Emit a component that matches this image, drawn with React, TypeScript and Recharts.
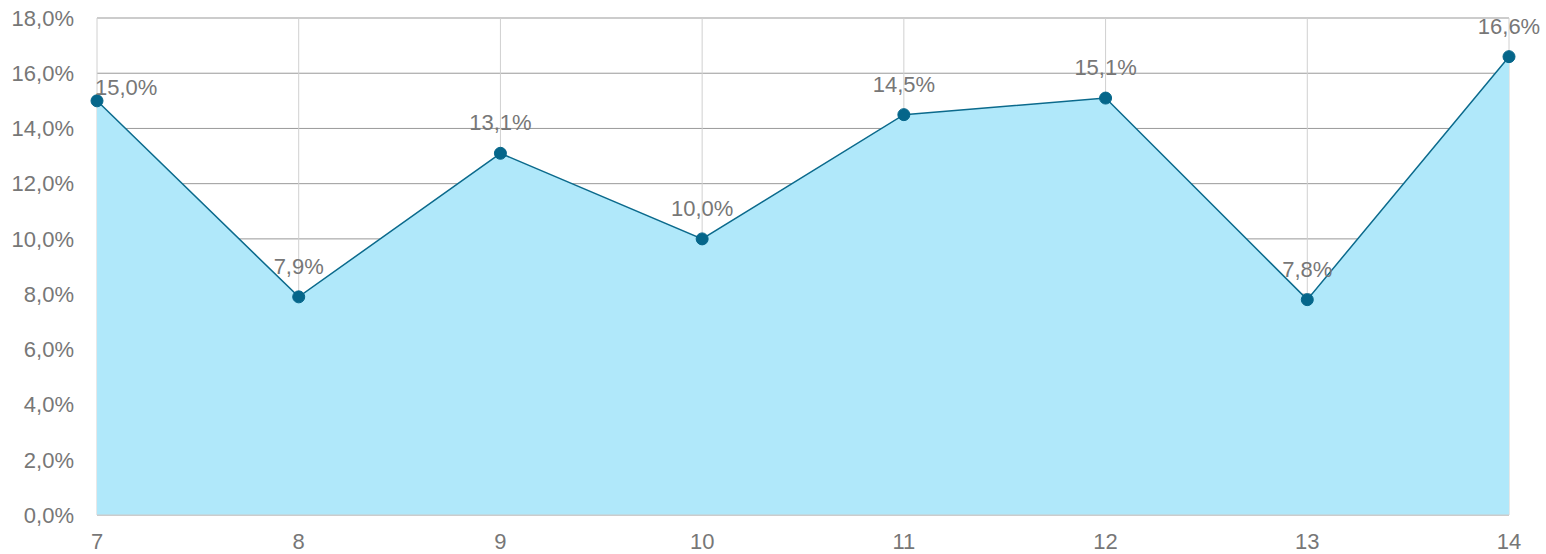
import { Area, AreaChart, CartesianGrid, LabelList, XAxis, YAxis } from "recharts";

const categories = ['7', '8', '9', '10', '11', '12', '13', '14'];
const values = [15.0, 7.9, 13.1, 10.0, 14.5, 15.1, 7.8, 16.6];
const yTicks = [0, 2, 4, 6, 8, 10, 12, 14, 16, 18];

const data = categories.map((name, i) => ({ name, value: values[i] }));

const fmt = (v: number) => v.toFixed(1).replace('.', ',') + '%';
const font = '"Liberation Sans", Arial, sans-serif';

const PointLabel = (props: any) => {
    const { x, y, value, index } = props;
    if (index === 0) {
        return (
            <text x={x - 2} y={y - 6} textAnchor="start" fill="#777" fontSize={22} fontFamily={font}>
                {fmt(value)}
            </text>
        );
    }
    return (
        <text x={x} y={y - 23} textAnchor="middle" fill="#777" fontSize={22} fontFamily={font}>
            {fmt(value)}
        </text>
    );
};

export default function App() {
    return (
        <div style={{ position: 'absolute', left: 0, top: 0 }}>
            <AreaChart width={1546} height={554} data={data} margin={{ top: 18, right: 37, bottom: 0, left: 0 }}>
                <CartesianGrid stroke="#999" horizontal={true} vertical={false} />
                <CartesianGrid stroke="#d0d0d0" horizontal={false} vertical={true} />
                <XAxis
                    dataKey="name"
                    tickLine={false}
                    axisLine={{ stroke: '#ccc' }}
                    tickSize={0}
                    tickMargin={18}
                    height={39}
                    tick={{ fill: '#777', fontSize: 22, fontFamily: font }}
                />
                <YAxis
                    domain={[0, 18]}
                    ticks={yTicks}
                    tickFormatter={fmt}
                    tickLine={false}
                    axisLine={false}
                    tickSize={0}
                    tickMargin={23}
                    width={97}
                    interval={0}
                    tick={{ fill: '#777', fontSize: 22, fontFamily: font }}
                />
                <Area
                    type="linear"
                    dataKey="value"
                    stroke="#0b6a8c"
                    strokeWidth={1.5}
                    fill="#b0e8fa"
                    fillOpacity={1}
                    dot={{ r: 6, fill: '#05668a', stroke: '#05668a', strokeWidth: 1 }}
                    activeDot={false}
                    isAnimationActive={false}
                >
                    <LabelList dataKey="value" content={PointLabel} />
                </Area>
            </AreaChart>
        </div>
    );
}
